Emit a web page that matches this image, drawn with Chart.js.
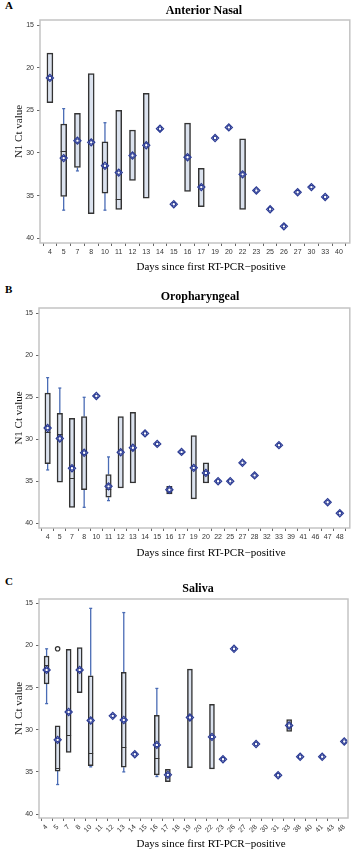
<!DOCTYPE html>
<html><head><meta charset="utf-8">
<script src="https://cdn.jsdelivr.net/npm/chart.js@4.4.0/dist/chart.umd.min.js"></script>
<style>
html,body{margin:0;padding:0;background:#fff}
body{width:355px;height:850px;position:relative;overflow:hidden}
.wrap{position:absolute;left:0;width:355px}
.lbl{position:absolute;left:5px;font:bold 11px "Liberation Serif",serif;color:#000}
</style></head><body>
<div class="lbl" style="top:-1px">A</div>
<div class="lbl" style="top:283px">B</div>
<div class="lbl" style="top:575px">C</div>
<div class="wrap" style="top:0;height:275px"><canvas id="cA"></canvas></div>
<div class="wrap" style="top:280px;height:280px"><canvas id="cB"></canvas></div>
<div class="wrap" style="top:560px;height:290px"><canvas id="cC"></canvas></div>
<script>
// ---------- shared ----------
const yTicks = [15, 20, 25, 30, 35, 40];

// ---------- A: Anterior Nasal ----------
const nasalDays = [4,5,7,8,10,11,12,13,14,15,16,17,19,20,22,23,25,26,27,30,33,40];
const nasalQ1 = [18.3,26.6,25.35,20.7,28.7,25.0,27.3,23.0,null,null,26.5,31.8,null,null,28.35,null,null,null,null,null,null,null];
const nasalQ3 = [24.1,35.1,31.7,37.1,34.7,36.6,33.2,35.3,null,null,34.5,36.3,null,null,36.6,null,null,null,null,null,null,null];
const nasalMedian = [null,29.8,null,null,31.3,35.4,null,null,null,null,null,null,null,null,null,null,null,null,null,null,null,null];
const nasalWhiskerLow = [null,24.8,null,null,26.45,null,null,null,null,null,null,null,null,null,null,null,null,null,null,null,null,null];
const nasalWhiskerHigh = [null,36.7,32.1,null,36.7,null,null,null,null,null,null,null,null,null,null,null,null,null,null,null,null,null];
const nasalMean = [21.2,30.6,28.55,28.75,31.5,32.3,30.3,29.1,27.15,36.0,30.5,34.0,28.25,27.0,32.5,34.4,36.6,38.6,34.6,34.0,35.15,null];
const nasalOutlier = nasalDays.map(() => null);

// ---------- B: Oropharyngeal ----------
const oroDays = [4,5,7,8,10,11,12,13,14,15,16,17,19,20,22,25,27,28,32,33,39,41,46,47,48];
const oroQ1 = [24.5,26.9,27.5,27.3,null,34.2,27.3,26.8,null,null,35.6,null,29.55,32.8,null,null,null,null,null,null,null,null,null,null,null];
const oroQ3 = [32.9,35.1,38.1,36.0,null,36.9,35.8,35.2,null,null,36.5,null,37.1,35.2,null,null,null,null,null,null,null,null,null,null,null];
const oroMedian = [29.1,29.4,34.6,null,null,35.95,null,null,null,null,null,null,null,null,null,null,null,null,null,null,null,null,null,null,null];
const oroWhiskerLow = [22.66,23.9,null,25.0,null,32.1,null,null,null,null,null,null,null,null,null,null,null,null,null,null,null,null,null,null,null];
const oroWhiskerHigh = [33.65,null,null,38.1,null,37.3,null,null,null,null,null,null,null,null,null,null,null,null,null,null,null,null,null,null,null];
const oroMean = [28.65,29.9,33.45,31.6,24.85,35.6,31.55,31.0,29.3,30.55,36.0,31.5,33.4,34.0,35.0,35.0,32.8,34.3,null,30.7,null,null,null,37.5,38.8];
const oroOutlier = oroDays.map(() => null);

// ---------- C: Saliva ----------
const salivaDays = [4,5,7,8,10,11,12,13,14,15,16,17,18,19,20,22,23,26,27,28,30,31,33,38,40,41,43,48];
const salivaQ1 = [21.25,29.55,20.45,20.25,23.6,null,null,23.2,null,null,28.3,34.7,null,22.8,null,27.0,null,null,null,null,null,null,28.8,null,null,null,null,null];
const salivaQ3 = [24.55,34.9,32.7,25.6,34.25,null,null,34.45,null,null,35.35,36.15,null,34.5,null,34.65,null,null,null,null,null,null,30.2,null,null,null,null,null];
const salivaMedian = [22.3,34.55,30.6,null,32.8,null,null,32.1,null,null,33.3,null,null,null,null,null,null,null,null,null,null,null,null,null,null,null,null,null];
const salivaWhiskerLow = [20.4,null,null,null,15.6,null,null,16.1,null,null,25.1,null,null,null,null,null,null,null,null,null,null,null,null,null,null,null,null,null];
const salivaWhiskerHigh = [26.9,36.5,null,null,34.4,null,null,35.0,null,null,35.55,null,null,null,null,null,null,null,null,null,null,null,null,null,null,null,null,null];
const salivaMean = [22.9,31.2,27.9,22.9,28.9,null,28.35,28.85,32.9,null,31.8,35.35,null,28.55,null,30.85,33.5,20.4,null,31.7,null,35.4,29.5,33.2,null,33.2,null,31.4];
const salivaOutlier = [null,20.4,null,null,null,null,null,null,null,null,null,null,null,null,null,null,null,null,null,null,null,null,null,null,null,null,null,null];

// ---------- plugins ----------
const boxExtras = {
  id: 'boxExtras',
  beforeDatasetsDraw(chart, args, o) {
    const {ctx} = chart, x = chart.scales.x, y = chart.scales.y;
    ctx.save();
    ctx.strokeStyle = '#4a6cb5';
    ctx.lineWidth = 1.3;
    o.q1.forEach((q, i) => {
      const px = x.getPixelForValue(i);
      const seg = (a, b) => {
        ctx.beginPath();
        ctx.moveTo(px, y.getPixelForValue(a));
        ctx.lineTo(px, y.getPixelForValue(b));
        ctx.stroke();
        ctx.beginPath();
        ctx.moveTo(px - 1.5, y.getPixelForValue(a));
        ctx.lineTo(px + 1.5, y.getPixelForValue(a));
        ctx.stroke();
      };
      if (o.wLow[i] != null) seg(o.wLow[i], q != null ? q : o.mean[i]);
      if (o.wHigh[i] != null) seg(o.wHigh[i], o.q3[i] != null ? o.q3[i] : o.mean[i]);
    });
    ctx.restore();
  },
  afterDatasetDraw(chart, args, o) {
    if (args.index !== 0) return;
    const {ctx} = chart, x = chart.scales.x, y = chart.scales.y;
    ctx.save();
    ctx.strokeStyle = '#333';
    ctx.lineWidth = 1;
    o.median.forEach((m, i) => {
      if (m == null) return;
      const px = x.getPixelForValue(i), py = Math.round(y.getPixelForValue(m)) + 0.5;
      ctx.beginPath();
      ctx.moveTo(px - o.half, py);
      ctx.lineTo(px + o.half, py);
      ctx.stroke();
    });
    ctx.restore();
  },
  afterDraw(chart, args, o) {
    const {ctx, chartArea: a} = chart;
    ctx.save();
    ctx.strokeStyle = '#c4c4c4';
    ctx.lineWidth = 1.5;
    ctx.strokeRect(a.left, a.top, a.right - a.left, a.bottom - a.top);
    ctx.fillStyle = '#000';
    ctx.textAlign = 'center';
    ctx.textBaseline = 'middle';
    ctx.font = 'bold 12px "Liberation Serif"';
    ctx.fillText(o.title, o.titleX, o.titleY);
    ctx.font = '11px "Liberation Serif"';
    ctx.fillText('Days since first RT-PCR\u2212positive', o.xTitleX, o.xTitleY);
    ctx.restore();
  }
};

function makeChart(id, p) {
  const idx = p.days.map((d, i) => i);
  const boxes = idx.map(i => p.q1[i] != null ? {x: i, y: [p.q1[i], p.q3[i]]} : null).filter(Boolean);
  const means = idx.map(i => p.mean[i] != null ? {x: i, y: p.mean[i]} : null).filter(Boolean);
  const outs = idx.map(i => p.outlier[i] != null ? {x: i, y: p.outlier[i]} : null).filter(Boolean);
  const ink = '#2b3b94';
  return new Chart(document.getElementById(id), {
    type: 'bar',
    data: {
      datasets: [
        {type: 'bar', data: boxes, backgroundColor: '#dbe2ee', borderColor: '#333', borderWidth: 1.5,
         borderSkipped: false, barThickness: p.boxW, order: 3},
        {type: 'line', data: means, showLine: false, pointStyle: 'rectRot', pointRadius: 3.6,
         pointBorderColor: ink, pointBackgroundColor: 'rgba(255,255,255,0.7)', pointBorderWidth: 1.2, order: 2},
        {type: 'line', data: means, showLine: false, pointStyle: 'circle', pointRadius: 1.8,
         pointBorderColor: ink, pointBackgroundColor: '#fff', pointBorderWidth: 1.2, order: 1},
        {type: 'line', data: outs, showLine: false, pointStyle: 'circle', pointRadius: 2.2,
         pointBorderColor: '#333', pointBackgroundColor: '#fff', pointBorderWidth: 1.2, order: 0}
      ]
    },
    options: {
      responsive: true, maintainAspectRatio: false, animation: false,
      events: [],
      layout: {padding: {top: p.padTop, right: p.padRight, bottom: 0, left: 10}},
      plugins: {
        legend: {display: false}, tooltip: {enabled: false},
        boxExtras: {q1: p.q1, q3: p.q3, median: p.median, wLow: p.wLow, wHigh: p.wHigh, mean: p.mean,
                    half: p.boxW / 2, title: p.title, titleX: p.titleX, titleY: p.titleY,
                    xTitleX: 211, xTitleY: p.xTitleY}
      },
      scales: {
        x: {
          type: 'linear', min: p.xMin, max: p.xMax, offset: false,
          afterBuildTicks: ax => { ax.ticks = idx.map(v => ({value: v})); },
          afterFit: ax => { ax.height = p.xAxisH; },
          ticks: {autoSkip: false, maxRotation: p.rot, minRotation: p.rot, padding: 2,
                  font: {family: 'Liberation Sans', size: 7}, color: '#333',
                  callback: v => p.days[v]},
          grid: {drawOnChartArea: false, drawTicks: true, tickLength: 3, color: '#666'},
          border: {display: false}
        },
        y: {
          reverse: true, min: p.yMin, max: p.yMax,
          afterBuildTicks: ax => { ax.ticks = yTicks.map(v => ({value: v})); },
          afterFit: ax => { ax.width = p.yAxisW; },
          ticks: {font: {family: 'Liberation Sans', size: 7}, color: '#333', padding: 3},
          grid: {drawOnChartArea: false, drawTicks: true, tickLength: 3, color: '#666'},
          border: {display: false},
          title: {display: true, text: 'N1 Ct value', color: '#111', padding: {top: 3, bottom: 0},
                  font: {family: 'Liberation Serif', size: 11}}
        }
      }
    },
    plugins: [boxExtras]
  });
}

makeChart('cA', {days: nasalDays, q1: nasalQ1, q3: nasalQ3, median: nasalMedian, wLow: nasalWhiskerLow,
  wHigh: nasalWhiskerHigh, mean: nasalMean, outlier: nasalOutlier, boxW: 6,
  title: 'Anterior Nasal', titleX: 204, titleY: 11, xTitleY: 267,
  padTop: 20, padRight: 2, xAxisH: 32, yAxisW: 30, xMin: -0.72, xMax: 21.79, yMin: 14.41, yMax: 40.55, rot: 0});

makeChart('cB', {days: oroDays, q1: oroQ1, q3: oroQ3, median: oroMedian, wLow: oroWhiskerLow,
  wHigh: oroWhiskerHigh, mean: oroMean, outlier: oroOutlier, boxW: 5.5,
  title: 'Oropharyngeal', titleX: 200, titleY: 17, xTitleY: 273,
  padTop: 28, padRight: 5, xAxisH: 32, yAxisW: 29, xMin: -0.71, xMax: 24.82, yMin: 14.37, yMax: 40.56, rot: 0});

makeChart('cC', {days: salivaDays, q1: salivaQ1, q3: salivaQ3, median: salivaMedian, wLow: salivaWhiskerLow,
  wHigh: salivaWhiskerHigh, mean: salivaMean, outlier: salivaOutlier, boxW: 5,
  title: 'Saliva', titleX: 198, titleY: 29, xTitleY: 284,
  padTop: 39, padRight: 7, xAxisH: 32, yAxisW: 29, xMin: -0.69, xMax: 27.34, yMin: 14.49, yMax: 40.47, rot: 45});
</script>
</body></html>
